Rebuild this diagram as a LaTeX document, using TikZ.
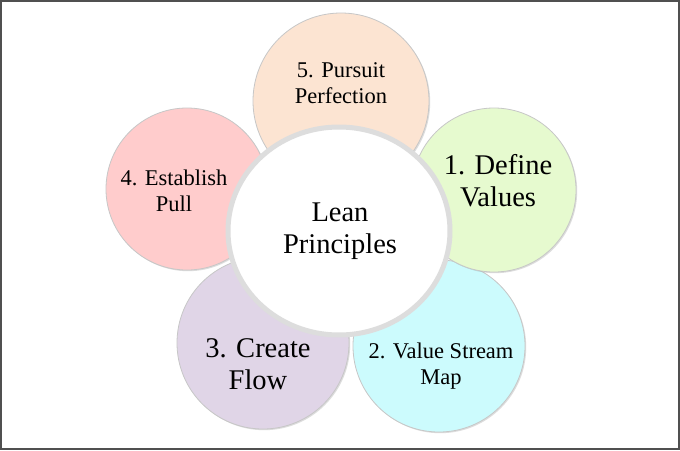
\documentclass[tikz,border=0pt]{standalone}
\usepackage{fontspec}
\setmainfont{Liberation Serif}
\usetikzlibrary{shadows,shapes.geometric}
\definecolor{peach}{HTML}{FCE4D2}
\definecolor{lgreen}{HTML}{E6FACF}
\definecolor{lcyan}{HTML}{CCFBFD}
\definecolor{lpurple}{HTML}{E0D5E7}
\definecolor{lpink}{HTML}{FFCCCC}
\definecolor{ringgray}{HTML}{DDDDDD}
\definecolor{framegray}{HTML}{505050}
\tikzset{
  petal/.style={circle, draw=black!22, line width=0.8pt, inner sep=0pt,
    drop shadow={shadow xshift=1.2pt, shadow yshift=-1.2pt, opacity=0.22, fill=black!60}},
  smalltxt/.style={font=\fontsize{22.5}{26}\selectfont, align=center, inner sep=0pt},
  bigtxt/.style={font=\fontsize{28.5}{32}\selectfont, align=center, inner sep=0pt},
  hub/.style={ellipse, fill=white, draw=ringgray, line width=5pt, inner sep=0pt},
  frameline/.style={draw=framegray, line width=2pt}
}
\begin{document}
\begin{tikzpicture}[x=1pt,y=-1pt]
\useasboundingbox (0,0) rectangle (680,450);
\fill[white] (0,0) rectangle (680,450);
% petals
\node[petal, fill=lpurple, minimum size=172pt] (p3) at (263,343) {};
\node[petal, fill=lcyan, minimum size=172pt] (p2) at (439,346) {};
\node[petal, fill=lgreen, minimum size=164pt] (p1) at (494,190) {};
\node[petal, fill=lpink, minimum size=162pt] (p4) at (187,189) {};
\node[petal, fill=peach, minimum size=176pt] (p5) at (341,101) {};
% hub
\node[hub, minimum width=222pt, minimum height=208pt] (c) at (339,231) {};
% labels
\node[smalltxt] (t5) at (341,83) {5. Pursuit\\Perfection};
\node[bigtxt] (t1) at (498,181) {1. Define\\Values};
\node[smalltxt] (t2) at (441,366) {2. Value Stream\\Map};
\node[bigtxt] (t3) at (258,364) {3. Create\\Flow};
\node[smalltxt] (t4) at (174,191) {4. Establish\\Pull};
\node[bigtxt] (tc) at (340,231) {Lean\\Principles};
% frame
\draw[frameline] (1,1) rectangle (679,449);
\end{tikzpicture}
\end{document}
